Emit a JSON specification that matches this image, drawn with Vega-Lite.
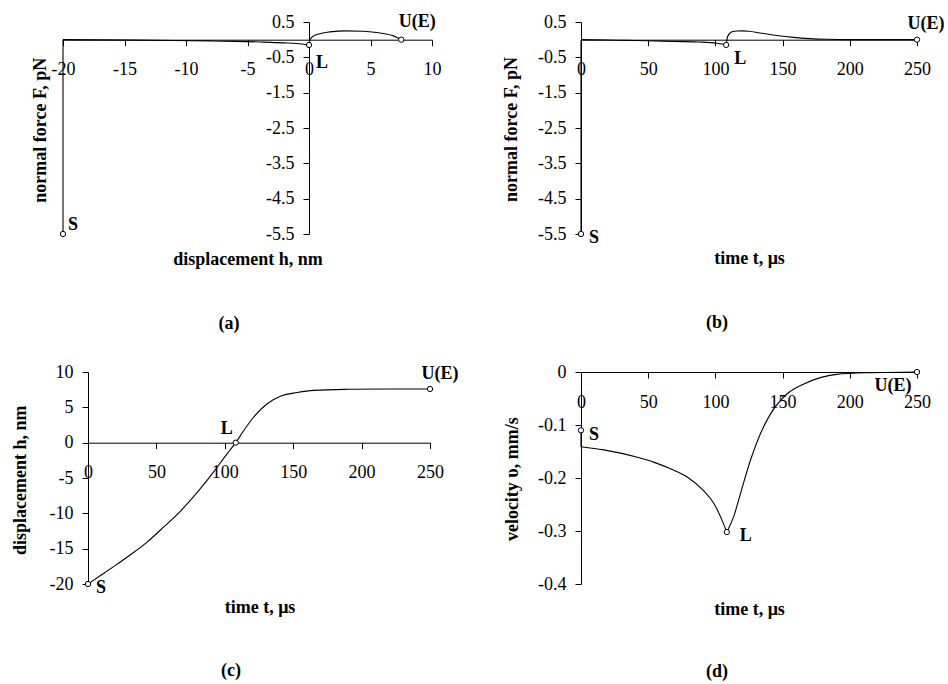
{
  "$schema": "https://vega.github.io/schema/vega-lite/v6.json",
  "padding": {"left": 11, "top": 12, "right": 5, "bottom": 5},
  "background": "white",
  "config": {
    "view": {"stroke": null},
    "font": "Liberation Serif",
    "axis": {
      "grid": false,
      "domainColor": "black",
      "domainWidth": 1,
      "tickColor": "black",
      "tickWidth": 1,
      "tickSize": 6,
      "labelColor": "black",
      "labelFont": "Liberation Serif",
      "labelFontSize": 18,
      "labelOverlap": false,
      "labelFlush": false,
      "titleColor": "black",
      "titleFont": "Liberation Serif",
      "titleFontSize": 18,
      "titleFontWeight": "bold"
    },
    "axisX": {"labelPadding": 15},
    "axisY": {"labelPadding": 9},
    "title": {"font": "Liberation Serif", "fontSize": 18, "fontWeight": "bold", "color": "black"},
    "text": {"font": "Liberation Serif", "fontSize": 18, "fontWeight": "bold", "color": "black", "align": "center", "baseline": "middle"}
  },
  "datasets": {
    "a_line": [
      {"h": -20, "F": -5.5, "seg": "s"}, {"h": -20, "F": 0, "seg": "s"},
      {"h": -20, "F": 0, "seg": "l"}, {"h": -17, "F": -0.005, "seg": "l"}, {"h": -14, "F": -0.012, "seg": "l"},
      {"h": -11, "F": -0.022, "seg": "l"}, {"h": -8, "F": -0.035, "seg": "l"}, {"h": -6, "F": -0.047, "seg": "l"},
      {"h": -4, "F": -0.065, "seg": "l"}, {"h": -2, "F": -0.09, "seg": "l"}, {"h": -1, "F": -0.11, "seg": "l"},
      {"h": 0, "F": -0.15, "seg": "l"},
      {"h": 0, "F": -0.15, "seg": "r"}, {"h": 0.05, "F": -0.05, "seg": "r"}, {"h": 0.12, "F": 0.02, "seg": "r"},
      {"h": 0.35, "F": 0.1, "seg": "r"}, {"h": 0.9, "F": 0.17, "seg": "r"}, {"h": 1.7, "F": 0.22, "seg": "r"},
      {"h": 3.0, "F": 0.25, "seg": "r"}, {"h": 4.4, "F": 0.24, "seg": "r"}, {"h": 5.8, "F": 0.19, "seg": "r"},
      {"h": 6.9, "F": 0.1, "seg": "r"}, {"h": 7.5, "F": 0, "seg": "r"}
    ],
    "a_pts": [{"h": -20, "F": -5.5, "lab": "S"}, {"h": 0, "F": -0.15, "lab": "L"}, {"h": 7.5, "F": 0, "lab": "U(E)"}],
    "b_line": [
      {"t": 0, "F": -5.5, "seg": "s"}, {"t": 0, "F": 0, "seg": "s"},
      {"t": 0, "F": 0, "seg": "l"}, {"t": 20, "F": -0.01, "seg": "l"}, {"t": 34, "F": -0.02, "seg": "l"},
      {"t": 50, "F": -0.03, "seg": "l"}, {"t": 69, "F": -0.05, "seg": "l"}, {"t": 88, "F": -0.066, "seg": "l"},
      {"t": 101, "F": -0.1, "seg": "l"}, {"t": 105, "F": -0.125, "seg": "l"}, {"t": 108, "F": -0.15, "seg": "l"},
      {"t": 108, "F": -0.15, "seg": "r"}, {"t": 108.3, "F": -0.07, "seg": "r"}, {"t": 108.8, "F": 0.05, "seg": "r"},
      {"t": 109.5, "F": 0.12, "seg": "r"}, {"t": 111, "F": 0.19, "seg": "r"}, {"t": 113, "F": 0.23, "seg": "r"},
      {"t": 116, "F": 0.245, "seg": "r"}, {"t": 120, "F": 0.25, "seg": "r"}, {"t": 125, "F": 0.24, "seg": "r"},
      {"t": 133, "F": 0.19, "seg": "r"}, {"t": 145.6, "F": 0.12, "seg": "r"}, {"t": 158, "F": 0.066, "seg": "r"},
      {"t": 170, "F": 0.03, "seg": "r"}, {"t": 183, "F": 0.01, "seg": "r"}, {"t": 200, "F": 0.002, "seg": "r"},
      {"t": 250, "F": 0, "seg": "r"}
    ],
    "b_pts": [{"t": 0, "F": -5.5, "lab": "S"}, {"t": 108, "F": -0.15, "lab": "L"}, {"t": 250, "F": 0, "lab": "U(E)"}],
    "c_line": [
      {"t": 0, "h": -20}, {"t": 10, "h": -18.7}, {"t": 19, "h": -17.5}, {"t": 30, "h": -16.0}, {"t": 43, "h": -14.1},
      {"t": 55, "h": -12.0}, {"t": 68, "h": -9.6}, {"t": 80, "h": -7.0}, {"t": 92, "h": -4.1}, {"t": 100, "h": -2.0},
      {"t": 104, "h": -1.0}, {"t": 108, "h": 0}, {"t": 114, "h": 1.75}, {"t": 121, "h": 3.6}, {"t": 131, "h": 5.5},
      {"t": 141, "h": 6.6}, {"t": 153, "h": 7.1}, {"t": 165, "h": 7.4}, {"t": 190, "h": 7.55}, {"t": 220, "h": 7.6},
      {"t": 250, "h": 7.6}
    ],
    "c_pts": [{"t": 0, "h": -20, "lab": "S"}, {"t": 108, "h": 0, "lab": "L"}, {"t": 250, "h": 7.6, "lab": "U(E)"}],
    "d_line": [
      {"t": 0, "v": -0.11, "seg": "s"}, {"t": 0, "v": -0.141, "seg": "s"},
      {"t": 0, "v": -0.141, "seg": "l"}, {"t": 17, "v": -0.147, "seg": "l"}, {"t": 42, "v": -0.161, "seg": "l"},
      {"t": 55, "v": -0.171, "seg": "l"}, {"t": 67, "v": -0.183, "seg": "l"}, {"t": 79, "v": -0.198, "seg": "l"},
      {"t": 91, "v": -0.2235, "seg": "l"}, {"t": 99, "v": -0.2485, "seg": "l"}, {"t": 105, "v": -0.28, "seg": "l"},
      {"t": 108.5, "v": -0.302, "seg": "l"},
      {"t": 108.5, "v": -0.302, "seg": "r"}, {"t": 113.6, "v": -0.273, "seg": "r"}, {"t": 118.6, "v": -0.23, "seg": "r"},
      {"t": 126, "v": -0.167, "seg": "r"}, {"t": 133.4, "v": -0.117, "seg": "r"}, {"t": 140.8, "v": -0.08, "seg": "r"},
      {"t": 153, "v": -0.042, "seg": "r"}, {"t": 165.5, "v": -0.023, "seg": "r"}, {"t": 178, "v": -0.0106, "seg": "r"},
      {"t": 190, "v": -0.0044, "seg": "r"}, {"t": 215, "v": -0.0013, "seg": "r"}, {"t": 250, "v": 0, "seg": "r"}
    ],
    "d_pts": [{"t": 0, "v": -0.11, "lab": "S"}, {"t": 108.5, "v": -0.302, "lab": "L"}, {"t": 250, "v": 0, "lab": "U(E)"}]
  },
  "concat": [
    {
      "width": 369, "height": 212,
      "title": {"text": "(a)", "orient": "bottom", "frame": "group", "anchor": "middle", "dx": -18.5, "offset": 47},
      "encoding": {
        "x": {"field": "h", "type": "quantitative", "scale": {"domain": [-20, 10], "nice": false, "zero": false},
          "axis": {"title": "displacement h, nm", "values": [-20, -15, -10, -5, 0, 5, 10], "offset": -194.3,
            "titleX": 184.5, "titleY": 219.3, "titleAlign": "center", "titleBaseline": "middle",
            "labelExpr": "replace(format(datum.value, '~g'), '\u2212', '-')"}},
        "y": {"field": "F", "type": "quantitative", "scale": {"domain": [-5.5, 0.5], "nice": false, "zero": false},
          "axis": {"title": "normal force F, pN", "values": [0.5, -0.5, -1.5, -2.5, -3.5, -4.5, -5.5], "offset": -246,
            "titleX": -269, "titleY": 107.7, "titleAlign": "center", "titleBaseline": "middle", "titleAngle": -90,
            "labelExpr": "replace(format(datum.value, '~g'), '\u2212', '-')"}}
      },
      "layer": [
        {"data": {"name": "a_line"}, "mark": {"type": "line", "interpolate": "monotone", "color": "black", "strokeWidth": 1.1}, "encoding": {"detail": {"field": "seg"}}},
        {"data": {"name": "a_pts"}, "mark": {"type": "point", "shape": "circle", "filled": true, "fill": "white", "stroke": "black", "strokeWidth": 1, "size": 28, "opacity": 1}},
        {"data": {"name": "a_pts"}, "transform": [{"filter": "datum.lab === 'S'"}], "mark": {"type": "text", "dx": 10, "dy": -9}, "encoding": {"text": {"field": "lab"}}},
        {"data": {"name": "a_pts"}, "transform": [{"filter": "datum.lab === 'L'"}], "mark": {"type": "text", "dx": 13, "dy": 18}, "encoding": {"text": {"field": "lab"}}},
        {"data": {"name": "a_pts"}, "transform": [{"filter": "datum.lab === 'U(E)'"}], "mark": {"type": "text", "dx": 16, "dy": -18}, "encoding": {"text": {"field": "lab"}}}
      ]
    },
    {
      "width": 336, "height": 212,
      "title": {"text": "(b)", "orient": "bottom", "frame": "group", "anchor": "middle", "dx": -32, "offset": 47},
      "encoding": {
        "x": {"field": "t", "type": "quantitative", "scale": {"domain": [0, 250], "nice": false, "zero": false},
          "axis": {"title": "time t, μs", "values": [0, 50, 100, 150, 200, 250], "offset": -194.3,
            "titleX": 168, "titleY": 218.5, "titleAlign": "center", "titleBaseline": "middle",
            "labelExpr": "replace(format(datum.value, '~g'), '\u2212', '-')"}},
        "y": {"field": "F", "type": "quantitative", "scale": {"domain": [-5.5, 0.5], "nice": false, "zero": false},
          "axis": {"title": "normal force F, pN", "values": [0.5, -0.5, -1.5, -2.5, -3.5, -4.5, -5.5],
            "titleX": -69.5, "titleY": 107, "titleAlign": "center", "titleBaseline": "middle", "titleAngle": -90,
            "labelExpr": "replace(format(datum.value, '~g'), '\u2212', '-')"}}
      },
      "layer": [
        {"data": {"name": "b_line"}, "mark": {"type": "line", "interpolate": "monotone", "color": "black", "strokeWidth": 1.1}, "encoding": {"detail": {"field": "seg"}}},
        {"data": {"name": "b_pts"}, "mark": {"type": "point", "shape": "circle", "filled": true, "fill": "white", "stroke": "black", "strokeWidth": 1, "size": 28, "opacity": 1}},
        {"data": {"name": "b_pts"}, "transform": [{"filter": "datum.lab === 'S'"}], "mark": {"type": "text", "dx": 13, "dy": 4}, "encoding": {"text": {"field": "lab"}}},
        {"data": {"name": "b_pts"}, "transform": [{"filter": "datum.lab === 'L'"}], "mark": {"type": "text", "dx": 14, "dy": 14}, "encoding": {"text": {"field": "lab"}}},
        {"data": {"name": "b_pts"}, "transform": [{"filter": "datum.lab === 'U(E)'"}], "mark": {"type": "text", "dx": 9, "dy": -16}, "encoding": {"text": {"field": "lab"}}}
      ]
    },
    {
      "width": 367, "height": 212,
      "title": {"text": "(c)", "orient": "bottom", "frame": "group", "anchor": "middle", "dx": -15.5, "offset": 46},
      "encoding": {
        "x": {"field": "t", "type": "quantitative", "scale": {"domain": [0, 250], "range": [25, 367], "nice": false, "zero": false},
          "axis": {"title": "time t, μs", "values": [0, 50, 100, 150, 200, 250], "offset": -141.3,
            "titleX": 196.5, "titleY": 164.7, "titleAlign": "center", "titleBaseline": "middle",
            "labelExpr": "replace(format(datum.value, '~g'), '\u2212', '-')"}},
        "y": {"field": "h", "type": "quantitative", "scale": {"domain": [-20, 10], "nice": false, "zero": false},
          "axis": {"title": "displacement h, nm", "values": [10, 5, 0, -5, -10, -15, -20], "offset": -25,
            "titleX": -68, "titleY": 107.7, "titleAlign": "center", "titleBaseline": "middle", "titleAngle": -90,
            "labelExpr": "replace(format(datum.value, '~g'), '\u2212', '-')"}}
      },
      "layer": [
        {"data": {"name": "c_line"}, "mark": {"type": "line", "interpolate": "monotone", "color": "black", "strokeWidth": 1.1}},
        {"data": {"name": "c_pts"}, "mark": {"type": "point", "shape": "circle", "filled": true, "fill": "white", "stroke": "black", "strokeWidth": 1, "size": 28, "opacity": 1}},
        {"data": {"name": "c_pts"}, "transform": [{"filter": "datum.lab === 'S'"}], "mark": {"type": "text", "dx": 13, "dy": 4}, "encoding": {"text": {"field": "lab"}}},
        {"data": {"name": "c_pts"}, "transform": [{"filter": "datum.lab === 'L'"}], "mark": {"type": "text", "dx": -9, "dy": -14}, "encoding": {"text": {"field": "lab"}}},
        {"data": {"name": "c_pts"}, "transform": [{"filter": "datum.lab === 'U(E)'"}], "mark": {"type": "text", "dx": 10, "dy": -15}, "encoding": {"text": {"field": "lab"}}}
      ]
    },
    {
      "width": 336, "height": 212,
      "title": {"text": "(d)", "orient": "bottom", "frame": "group", "anchor": "middle", "dx": -32, "offset": 45},
      "encoding": {
        "x": {"field": "t", "type": "quantitative", "scale": {"domain": [0, 250], "nice": false, "zero": false},
          "axis": {"title": "time t, μs", "values": [0, 50, 100, 150, 200, 250], "offset": -212,
            "titleX": 168, "titleY": 237, "titleAlign": "center", "titleBaseline": "middle",
            "labelExpr": "replace(format(datum.value, '~g'), '\u2212', '-')"}},
        "y": {"field": "v", "type": "quantitative", "scale": {"domain": [-0.4, 0], "nice": false, "zero": false},
          "axis": {"title": "velocity υ, mm/s", "values": [0, -0.1, -0.2, -0.3, -0.4],
            "titleX": -68.5, "titleY": 106.7, "titleAlign": "center", "titleBaseline": "middle", "titleAngle": -90,
            "labelExpr": "replace(format(datum.value, '~g'), '\u2212', '-')"}}
      },
      "layer": [
        {"data": {"name": "d_line"}, "mark": {"type": "line", "interpolate": "monotone", "color": "black", "strokeWidth": 1.1}, "encoding": {"detail": {"field": "seg"}}},
        {"data": {"name": "d_pts"}, "mark": {"type": "point", "shape": "circle", "filled": true, "fill": "white", "stroke": "black", "strokeWidth": 1, "size": 28, "opacity": 1}},
        {"data": {"name": "d_pts"}, "transform": [{"filter": "datum.lab === 'S'"}], "mark": {"type": "text", "dx": 13, "dy": 5}, "encoding": {"text": {"field": "lab"}}},
        {"data": {"name": "d_pts"}, "transform": [{"filter": "datum.lab === 'L'"}], "mark": {"type": "text", "dx": 19, "dy": 4}, "encoding": {"text": {"field": "lab"}}},
        {"data": {"name": "d_pts"}, "transform": [{"filter": "datum.lab === 'U(E)'"}], "mark": {"type": "text", "dx": -24, "dy": 14}, "encoding": {"text": {"field": "lab"}}}
      ]
    }
  ],
  "columns": 2,
  "spacing": {"row": 138, "column": 149},
  "bounds": "flush"
}
